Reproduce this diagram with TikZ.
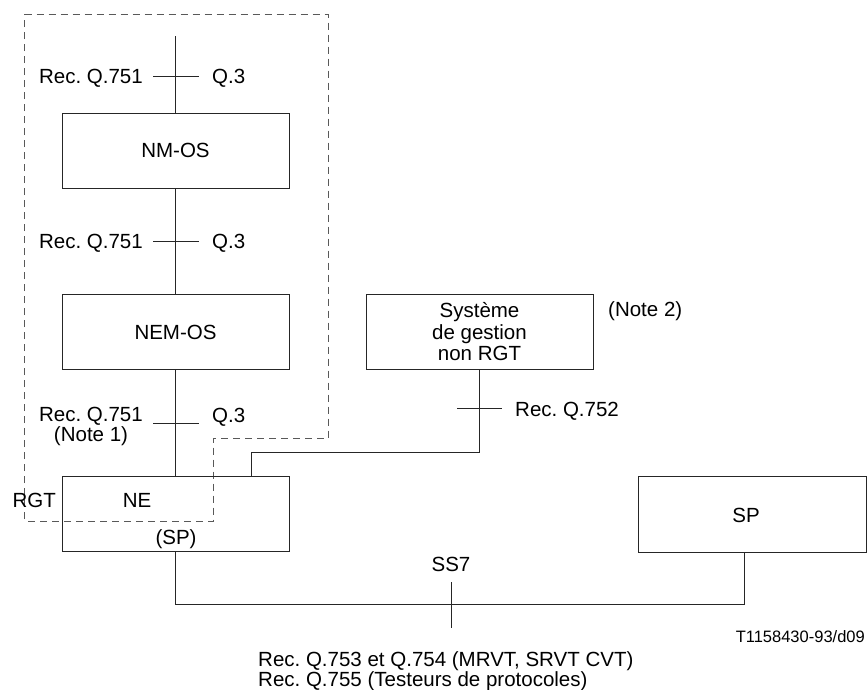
\documentclass[tikz,border=0pt]{standalone}
\usepackage{fontspec}
\setmainfont{Liberation Sans}
\frenchspacing
\begin{document}
\begin{tikzpicture}[x=1pt,y=-1pt,
  box/.style={draw=black!85,line width=1pt,rectangle,inner sep=0pt,minimum width=227pt,minimum height=75pt,font=\fontsize{20.5}{21.5}\selectfont,align=center},
  lbl/.style={inner sep=0pt,font=\fontsize{20.5}{21.5}\selectfont},
  small/.style={inner sep=0pt,font=\fontsize{16.5}{18}\selectfont},
  wire/.style={line width=1pt,draw=black!85},
  border/.style={line width=0.9pt,dash pattern=on 7pt off 5pt,draw=black!65}]
\useasboundingbox (0,0) rectangle (867,689);

% dashed RGT boundary
\draw[border] (24.5,14) -- (328,14) -- (328,438) -- (213,438) -- (213,521) -- (24.5,521) -- cycle;

% boxes
\node[box] (nmos) at (175.5,150.5) {NM-OS};
\node[box] (nemos) at (175.5,332) {NEM-OS};
\node[box] (ne) at (175.5,513.5) {};
\node[box] (sys) at (479.5,332) {Système\\de gestion\\non RGT};
\node[box,minimum width=228pt,minimum height=76pt] (sp) at (752,514) {};

% texts
\node[lbl,anchor=base] (netxt) at (137,507) {NE};
\node[lbl,anchor=base] (sptxtne) at (176,544) {(SP)};
\node[lbl,anchor=base east] (rgt) at (56,507) {RGT};
\node[lbl,anchor=base] (sptxt) at (746,522) {SP};
\node[lbl,anchor=base west] (note2) at (608,316) {(Note 2)};

% top connector
\coordinate (top) at (175.5,36);
\draw[wire] (top) -- (nmos.north);
\draw[wire] (153,76) -- (199,76);
\node[lbl,anchor=base east] (r1) at (143,83) {Rec. Q.751};
\node[lbl,anchor=base west] (q1) at (212,83) {Q.3};

% NM-OS to NEM-OS
\draw[wire] (nmos.south) -- (nemos.north);
\draw[wire] (153,241) -- (199,241);
\node[lbl,anchor=base east] (r2) at (143,248) {Rec. Q.751};
\node[lbl,anchor=base west] (q2) at (212,248) {Q.3};

% NEM-OS to NE
\draw[wire] (nemos.south) -- (ne.north);
\draw[wire] (153,423) -- (199,423);
\node[lbl,anchor=base east] (r3) at (143,421) {Rec. Q.751};
\node[lbl,anchor=base] (n1) at (91,441) {(Note 1)};
\node[lbl,anchor=base west] (q3) at (212,422) {Q.3};

% non-RGT system to NE
\draw[wire] (sys.south) |- ([xshift=190pt,yshift=23pt]ne.north west) -- ([xshift=190pt]ne.north west);
\draw[wire] (457,408) -- (502,408);
\node[lbl,anchor=base west] (r752) at (515,416) {Rec. Q.752};

% SS7 link
\draw[wire] (ne.south) |- ([xshift=-8pt,yshift=-52pt]sp.south) -- ([xshift=-8pt]sp.south);
\draw[wire] (451,582) -- (451,628);
\node[lbl,anchor=base] (ss7) at (451,571) {SS7};

\node[small,anchor=base east] (ref) at (865,642) {T1158430-93/d09};
\node[lbl,anchor=base west] (b1) at (258,666) {Rec. Q.753 et Q.754 (MRVT, SRVT CVT)};
\node[lbl,anchor=base west] (b2) at (258,686) {Rec. Q.755 (Testeurs de protocoles)};
\end{tikzpicture}
\end{document}
